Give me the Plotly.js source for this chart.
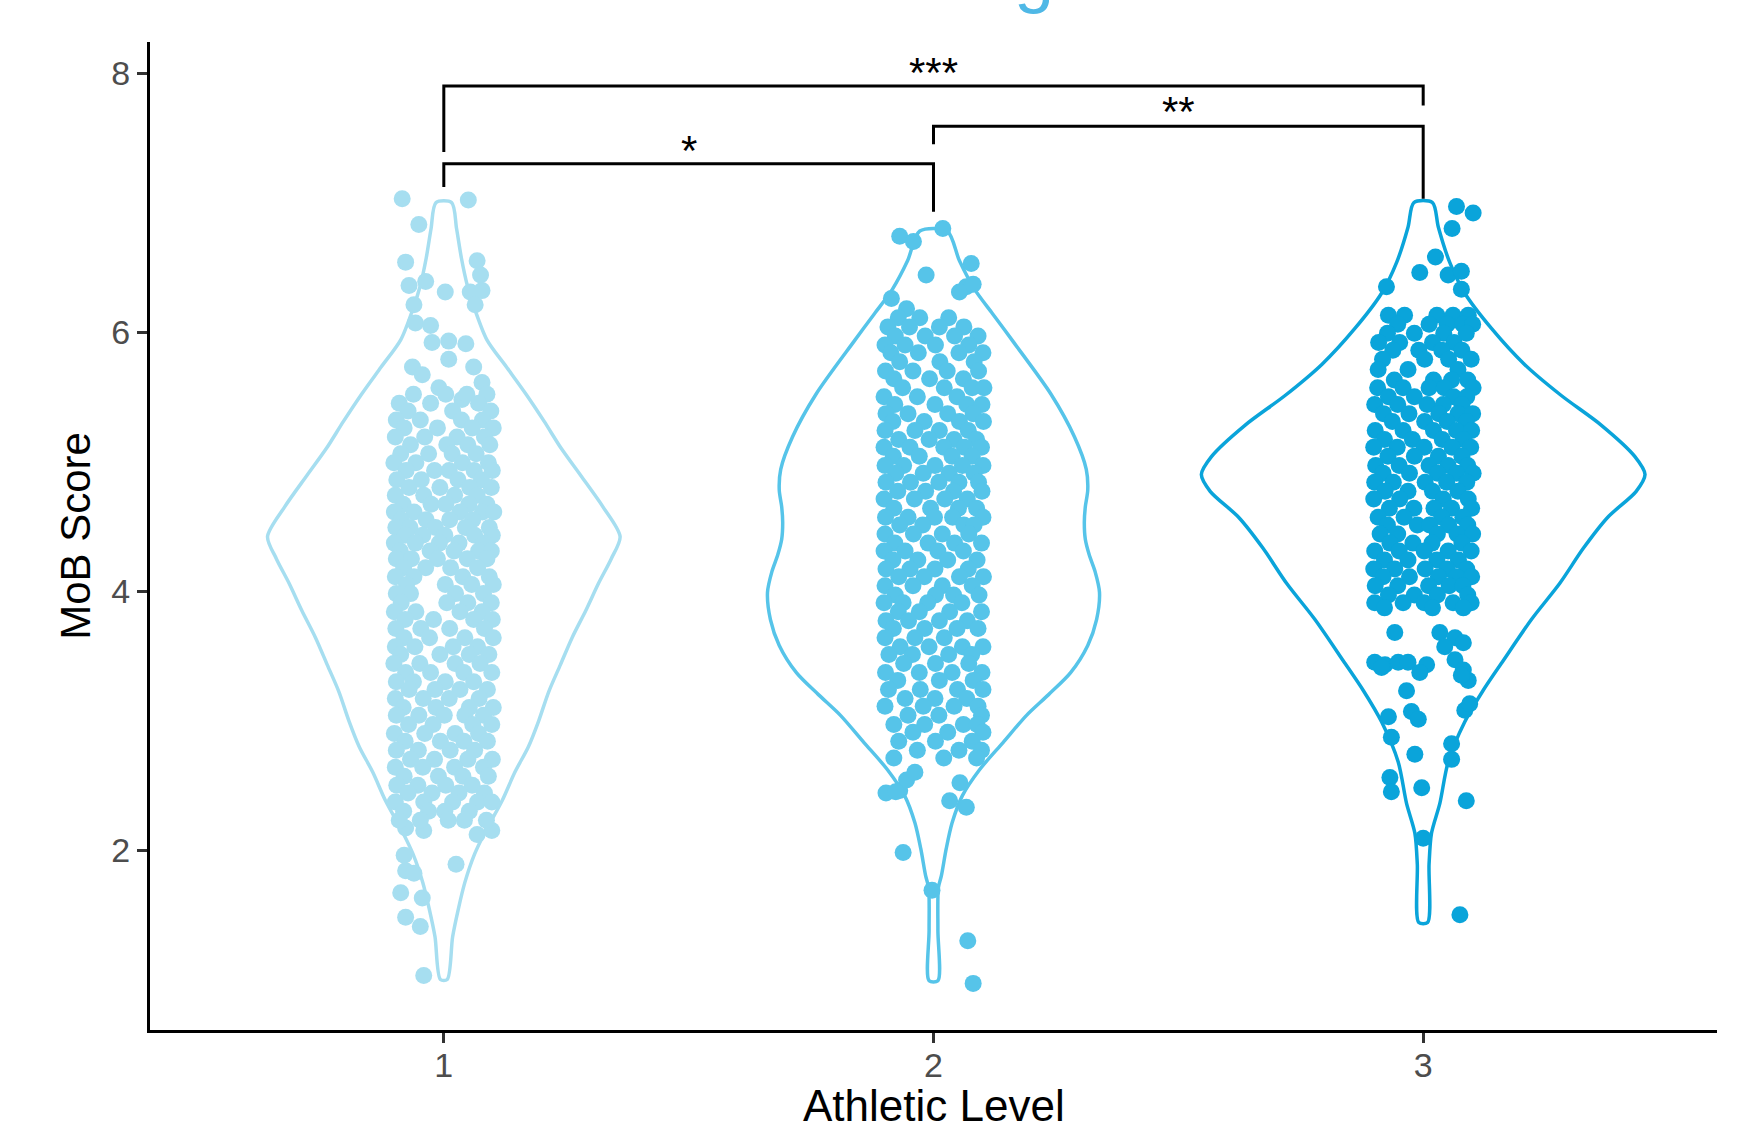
<!DOCTYPE html>
<html><head><meta charset="utf-8">
<script src="https://cdn.plot.ly/plotly-3.0.1.min.js"></script>
<style>html,body{margin:0;padding:0;background:#fff;}#chart{width:1743px;height:1124px;}</style>
</head><body><div id="chart"></div>
<script>
// ---- categories / ticks / titles ----
const categories = [1, 2, 3];
const tickLabels = ['1', '2', '3'];
const yTicks = [2, 4, 6, 8];
const xTitle = 'Athletic Level';
const yTitle = 'MoB Score';
const groupColors = ['#A6DEF0', '#56C4E9', '#0AA4DA'];

// ---- violin outlines: score level and half-width (x units) ----
const v1Score = [1.00,1.33,1.55,1.75,1.97,2.13,2.38,2.60,2.80,3.00,3.22,3.43,3.64,3.85,4.06,4.25,4.42,4.65,4.89,5.10,5.31,5.52,5.73,5.94,6.19,6.36,6.57,6.80,7.00];
const v1Half  = [0.007,0.018,0.030,0.043,0.063,0.083,0.119,0.145,0.173,0.194,0.214,0.238,0.262,0.290,0.316,0.342,0.360,0.325,0.280,0.240,0.205,0.168,0.128,0.088,0.062,0.048,0.036,0.026,0.016];
const v2Score = [0.99,1.38,1.71,1.80,2.01,2.21,2.42,2.62,2.83,3.04,3.20,3.37,3.58,3.78,3.99,4.15,4.28,4.40,4.53,4.65,4.78,4.94,5.19,5.52,5.93,6.14,6.33,6.55,6.78];
const v2Half  = [0.009,0.009,0.010,0.016,0.026,0.038,0.059,0.094,0.142,0.190,0.235,0.280,0.315,0.333,0.339,0.330,0.318,0.310,0.308,0.310,0.315,0.312,0.288,0.240,0.162,0.121,0.084,0.053,0.028];
const v3Score = [1.44,1.89,2.13,2.36,2.68,2.99,3.23,3.46,3.78,4.06,4.33,4.57,4.77,4.90,5.04,5.28,5.51,5.75,6.03,6.30,6.54,6.81,7.00];
const v3Half  = [0.009,0.012,0.017,0.034,0.051,0.085,0.122,0.163,0.221,0.279,0.327,0.377,0.435,0.453,0.432,0.364,0.282,0.207,0.139,0.085,0.054,0.031,0.019];

// ---- jittered points: [jitter, score] singles and [score, [jitters]] rows ----
const g1Single = [[-0.085,7.03],[0.05,7.02],[-0.051,6.83],[-0.078,6.54],[0.068,6.55],[0.075,6.44],[-0.037,6.39],[-0.071,6.36],[0.003,6.31],[0.054,6.31],[0.078,6.32],[-0.061,6.21],[0.064,6.21],[-0.058,6.07],[-0.027,6.05],[-0.024,5.92],[0.010,5.93],[0.045,5.91],[0.010,5.79],[0.061,5.73],[-0.064,5.73],[-0.044,5.67],[0.078,5.61],[-0.010,5.57],[0.037,5.48],
  [-0.078,2.17],[-0.041,2.15],[0.068,2.12],[0.098,2.15],[0.025,1.89],[-0.081,1.96],[-0.078,1.84],[-0.061,1.82],[-0.088,1.67],[-0.044,1.63],[-0.078,1.48],[-0.048,1.41],[-0.041,1.03]];
const g1Rows = [
 [5.52,[-0.062,0.004,0.047,0.088]],[5.45,[-0.091,-0.027,0.071]],[5.39,[-0.073,0.018,0.096]],[5.32,[-0.097,-0.048,0.036,0.079]],
 [5.26,[-0.081,-0.013,0.058,0.101]],[5.19,[-0.099,-0.039,0.027,0.083]],[5.13,[-0.068,0.006,0.049,0.094]],[5.06,[-0.088,-0.031,0.017,0.066]],
 [4.99,[-0.102,-0.057,0.038,0.091]],[4.93,[-0.077,-0.019,0.011,0.062,0.099]],[4.86,[-0.096,-0.046,0.029,0.077]],[4.80,[-0.071,-0.008,0.053,0.097]],
 [4.74,[-0.099,-0.041,0.022,0.068]],[4.67,[-0.083,-0.026,0.004,0.051,0.088]],[4.61,[-0.101,-0.061,0.033,0.079,0.102]],[4.55,[-0.087,-0.036,0.012,0.059]],
 [4.49,[-0.098,-0.069,-0.017,0.044,0.093]],[4.43,[-0.079,-0.043,0.002,0.063,0.099]],[4.37,[-0.101,-0.058,-0.009,0.031,0.082]],[4.31,[-0.089,-0.028,0.021,0.071,0.097]],
 [4.25,[-0.097,-0.066,-0.013,0.048,0.088]],[4.18,[-0.082,-0.037,0.014,0.069]],[4.11,[-0.099,-0.061,0.039,0.093]],[4.05,[-0.076,0.003,0.057,0.101]],
 [3.98,[-0.097,-0.068,0.024,0.081]],[3.91,[-0.087,0.006,0.049,0.097]],[3.84,[-0.101,-0.057,0.033,0.078]],[3.78,[-0.079,-0.021,0.061,0.099]],
 [3.71,[-0.098,-0.047,0.012,0.083]],[3.64,[-0.081,-0.029,0.043,0.101]],[3.57,[-0.099,-0.059,0.019,0.069]],[3.51,[-0.088,-0.008,0.052,0.092]],
 [3.44,[-0.102,-0.049,0.023,0.074]],[3.37,[-0.078,-0.027,0.041,0.098]],[3.30,[-0.097,-0.062,0.003,0.061]],[3.24,[-0.071,-0.018,0.033,0.089]],
 [3.17,[-0.099,-0.042,0.011,0.072]],[3.10,[-0.083,-0.016,0.052,0.101]],[3.04,[-0.097,-0.051,0.001,0.043,0.081]],[2.97,[-0.072,-0.022,0.059,0.098]],
 [2.90,[-0.101,-0.039,0.023,0.071]],[2.84,[-0.079,-0.007,0.041,0.089]],[2.77,[-0.097,-0.052,0.013,0.063]],[2.70,[-0.068,-0.019,0.049,0.099]],
 [2.64,[-0.099,-0.043,0.022,0.081]],[2.57,[-0.081,-0.011,0.039,0.091]],[2.50,[-0.096,-0.053,0.004,0.058]],[2.44,[-0.073,-0.024,0.031,0.083]],
 [2.37,[-0.099,-0.041,0.018,0.069,0.098]],[2.30,[-0.082,-0.031,0.002,0.052]],[2.23,[-0.091,-0.048,0.009,0.042,0.087]]];

const g2Single = [[-0.069,6.74],[-0.041,6.70],[0.019,6.80],[0.077,6.53],[0.067,6.35],[0.053,6.31],[0.081,6.37],[-0.015,6.44],[-0.086,6.26],[-0.055,6.18],
  [-0.069,2.46],[-0.097,2.44],[-0.055,2.54],[-0.038,2.60],[0.054,2.52],[0.033,2.38],[0.067,2.33],[-0.077,2.45],[-0.062,1.98],[-0.003,1.69],[0.070,1.30],[0.081,0.97]];
const g2Rows = [
 [6.11,[-0.072,-0.028,0.031]],[6.04,[-0.093,-0.049,0.012,0.062]],[5.97,[-0.078,-0.017,0.043,0.091]],[5.90,[-0.099,-0.058,0.004,0.072]],
 [5.84,[-0.087,-0.031,0.052,0.101]],[5.77,[-0.069,0.013,0.083]],[5.70,[-0.098,-0.042,0.028,0.092]],[5.64,[-0.081,-0.008,0.061]],
 [5.57,[-0.063,0.022,0.079,0.103]],[5.50,[-0.101,-0.033,0.048]],[5.44,[-0.079,0.003,0.068,0.099]],[5.37,[-0.097,-0.052,0.029,0.081]],
 [5.31,[-0.083,-0.019,0.053,0.102]],[5.24,[-0.099,-0.038,0.012,0.071]],[5.17,[-0.071,-0.009,0.042,0.088]],[5.11,[-0.101,-0.048,0.021,0.063,0.098]],
 [5.04,[-0.082,-0.029,0.038,0.079]],[4.97,[-0.099,-0.061,0.003,0.059,0.101]],[4.91,[-0.077,-0.021,0.032,0.083]],[4.84,[-0.097,-0.047,0.011,0.052,0.092]],
 [4.77,[-0.073,-0.016,0.041,0.099]],[4.71,[-0.101,-0.039,0.023,0.069]],[4.64,[-0.081,-0.006,0.051,0.088]],[4.57,[-0.098,-0.052,0.002,0.039,0.101]],
 [4.51,[-0.069,-0.022,0.062,0.083]],[4.44,[-0.099,-0.041,0.018,0.072]],[4.37,[-0.079,-0.011,0.043,0.098]],[4.31,[-0.101,-0.058,0.009,0.061]],
 [4.24,[-0.083,-0.032,0.029,0.089]],[4.17,[-0.097,-0.048,0.003,0.071]],[4.11,[-0.071,-0.019,0.053,0.102]],[4.04,[-0.099,-0.042,0.018,0.079]],
 [3.97,[-0.078,0.004,0.041,0.093]],[3.91,[-0.101,-0.062,-0.012,0.058]],[3.84,[-0.072,-0.029,0.033,0.098]],[3.77,[-0.097,-0.051,0.012,0.069]],
 [3.71,[-0.082,-0.018,0.048,0.091]],[3.64,[-0.099,-0.038,0.022]],[3.57,[-0.068,-0.009,0.059,0.101]],[3.51,[-0.091,-0.043,0.031,0.078]],
 [3.44,[-0.061,0.004,0.072]],[3.37,[-0.098,-0.029,0.038,0.099]],[3.31,[-0.073,0.012,0.081]],[3.24,[-0.092,-0.027,0.049,0.101]],
 [3.17,[-0.058,0.003,0.068]],[3.11,[-0.099,-0.021,0.042,0.091]],[3.04,[-0.052,0.011,0.098]],[2.97,[-0.081,-0.018,0.061,0.089]],
 [2.91,[-0.042,0.029,0.101]],[2.84,[-0.071,0.004,0.079]],[2.77,[-0.033,0.052,0.098]],[2.71,[-0.081,0.021,0.088]]];

const g3Single = [[0.068,6.97],[0.102,6.92],[0.059,6.80],[0.025,6.58],[-0.007,6.46],[0.051,6.44],[0.078,6.47],[-0.075,6.35],[0.078,6.33],
  [-0.058,3.68],[0.034,3.68],[0.065,3.64],[0.082,3.60],[0.044,3.57],[-0.099,3.45],[-0.078,3.43],[-0.051,3.45],[-0.031,3.45],[0.007,3.43],[0.065,3.47],
  [0.082,3.39],[0.092,3.31],[-0.007,3.37],[-0.085,3.41],[0.078,3.35],[-0.034,3.23],[-0.024,3.07],[-0.071,3.03],[-0.010,3.01],[0.085,3.08],[0.095,3.13],
  [-0.065,2.87],[-0.017,2.74],[0.058,2.82],[0.058,2.70],[-0.068,2.56],[-0.065,2.45],[-0.003,2.48],[0.088,2.38],[0.000,2.09],[0.075,1.50]];
const g3Rows = [
 [6.13,[-0.071,-0.038,0.028,0.061,0.092]],[6.06,[-0.052,0.012,0.049,0.081,0.101]],[5.99,[-0.073,-0.018,0.042,0.088]],[5.92,[-0.091,-0.048,0.019,0.063]],
 [5.86,[-0.062,-0.009,0.038,0.079]],[5.79,[-0.083,0.003,0.052,0.098]],[5.71,[-0.092,-0.031,0.071]],[5.63,[-0.059,0.021,0.058,0.091]],
 [5.57,[-0.093,-0.041,0.012,0.043,0.102]],[5.50,[-0.071,-0.018,0.062,0.089]],[5.44,[-0.099,-0.052,0.008,0.041,0.079]],[5.37,[-0.081,-0.029,0.032,0.071,0.101]],
 [5.31,[-0.063,0.003,0.049,0.088]],[5.24,[-0.098,-0.041,0.021,0.068,0.099]],[5.17,[-0.079,-0.022,0.039,0.082]],[5.11,[-0.101,-0.053,0.002,0.059,0.097]],
 [5.04,[-0.072,-0.018,0.031,0.079]],[4.97,[-0.097,-0.049,0.012,0.051,0.091]],[4.91,[-0.082,-0.028,0.029,0.068,0.102]],[4.84,[-0.099,-0.061,0.004,0.048,0.089]],
 [4.77,[-0.078,-0.031,0.019,0.071]],[4.71,[-0.101,-0.048,0.041,0.092]],[4.64,[-0.069,-0.019,0.022,0.058,0.099]],[4.57,[-0.092,-0.039,0.038,0.081]],
 [4.51,[-0.073,-0.012,0.013,0.052,0.091]],[4.44,[-0.088,-0.052,0.029,0.069,0.101]],[4.37,[-0.068,-0.021,0.018,0.079]],[4.31,[-0.099,-0.049,0.002,0.051,0.098]],
 [4.24,[-0.079,-0.031,0.028,0.072]],[4.17,[-0.101,-0.058,0.004,0.049,0.089]],[4.11,[-0.082,-0.028,0.031,0.068,0.099]],[4.04,[-0.098,-0.052,0.011,0.053,0.081]],
 [3.97,[-0.071,-0.018,0.029,0.091]],[3.91,[-0.099,-0.041,0.002,0.061,0.098]],[3.87,[-0.079,0.019,0.082]]];

// ---- significance brackets ----
const brkFrom = [1, 2, 1];
const brkTo = [3, 3, 2];
const brkTop = [7.90, 7.59, 7.30];
const brkLeftEnd = [7.39, 7.45, 7.12];
const brkRightEnd = [7.75, 7.03, 6.93];
const brkLabels = ['***', '**', '*'];
const brkLabelY = [8.04, 7.74, 7.44];

// ---- build traces ----
function violinTrace(cat, ys, hws, color) {
  const x = [], y = [];
  for (let i = 0; i < ys.length; i++) { x.push(cat + hws[i]); y.push(ys[i]); }
  for (let i = ys.length - 1; i >= 0; i--) { x.push(cat - hws[i]); y.push(ys[i]); }
  x.push(cat + hws[0]); y.push(ys[0]);
  return {type:'scatter', mode:'lines', x:x, y:y, line:{color:color, width:3.5, shape:'spline', smoothing:0.8}, hoverinfo:'skip', showlegend:false};
}
function pointTrace(cat, singles, rows, color) {
  const x = [], y = [];
  singles.forEach(p => { x.push(cat + p[0]); y.push(p[1]); });
  rows.forEach(r => r[1].forEach(j => { x.push(cat + j); y.push(r[0]); }));
  return {type:'scatter', mode:'markers', x:x, y:y, marker:{size:17, color:color, line:{width:0}}, showlegend:false, cliponaxis:false};
}
const traces = [
  violinTrace(categories[0], v1Score, v1Half, groupColors[0]),
  violinTrace(categories[1], v2Score, v2Half, groupColors[1]),
  violinTrace(categories[2], v3Score, v3Half, groupColors[2]),
  pointTrace(categories[0], g1Single, g1Rows, groupColors[0]),
  pointTrace(categories[1], g2Single, g2Rows, groupColors[1]),
  pointTrace(categories[2], g3Single, g3Rows, groupColors[2])
];
const annotations = [];
for (let i = 0; i < brkFrom.length; i++) {
  traces.push({type:'scatter', mode:'lines',
    x:[brkFrom[i], brkFrom[i], brkTo[i], brkTo[i]],
    y:[brkLeftEnd[i], brkTop[i], brkTop[i], brkRightEnd[i]],
    line:{color:'#000', width:3}, showlegend:false, hoverinfo:'skip', cliponaxis:false});
  annotations.push({x:(brkFrom[i] + brkTo[i]) / 2, y:brkLabelY[i], xref:'x', yref:'y', text:brkLabels[i],
    showarrow:false, yanchor:'middle', yshift:-5, font:{size:42, color:'#000', family:'Liberation Sans, Arial, sans-serif'}});
}
// x-axis title, placed low like the reference
annotations.push({x:0.5, y:-0.0495, xref:'paper', yref:'paper', text:xTitle, showarrow:false, yanchor:'top', xanchor:'center',
  font:{size:44, color:'#000', family:'Liberation Sans, Arial, sans-serif'}});
// clipped title fragment at the very top
annotations.push({x:0.564, y:1.0263, xref:'paper', yref:'paper', text:'g', showarrow:false, yanchor:'bottom', xanchor:'center',
  font:{size:72, color:'#4FB8E6', family:'Liberation Sans, Arial, sans-serif'}});

const axisCommon = {showgrid:false, zeroline:false, showline:true, linecolor:'#000', linewidth:3,
  ticks:'outside', ticklen:10, tickwidth:3, tickcolor:'#333', tickfont:{size:34, color:'#4d4d4d'}};
const layout = {
  width:1743, height:1124,
  margin:{l:150, r:26, t:42, b:94},
  paper_bgcolor:'#ffffff', plot_bgcolor:'#ffffff', showlegend:false,
  font:{family:'Liberation Sans, Arial, sans-serif'},
  xaxis:Object.assign({}, axisCommon, {range:[0.4, 3.6], tickvals:categories, ticktext:tickLabels, ticklabelstandoff:-7, automargin:false}),
  yaxis:Object.assign({}, axisCommon, {range:[0.61, 8.24], tickvals:yTicks, ticktext:yTicks.map(String), automargin:true,
    title:{text:yTitle, font:{size:42, color:'#000'}, standoff:8}}),
  annotations:annotations
};
Plotly.newPlot('chart', traces, layout, {displayModeBar:false, staticPlot:true});
</script></body></html>
